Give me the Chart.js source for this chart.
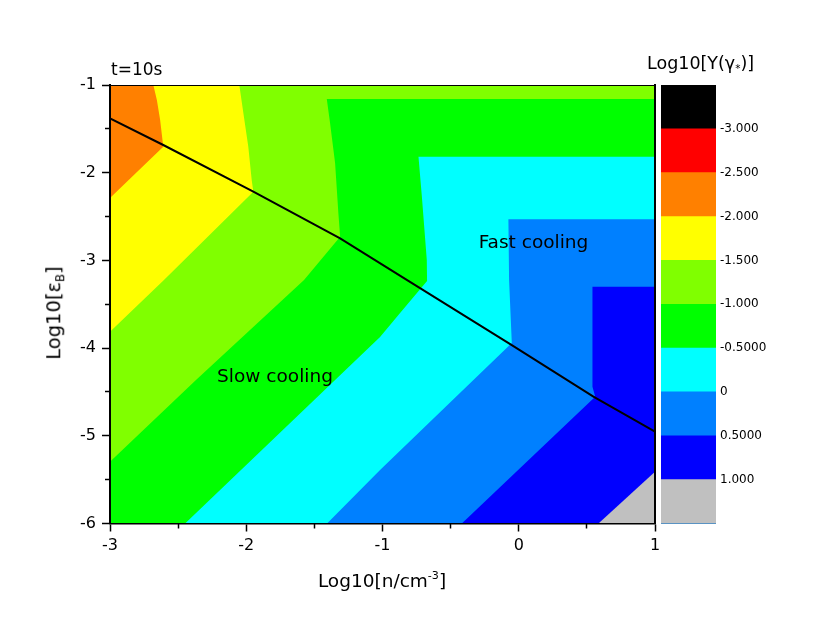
<!DOCTYPE html>
<html><head><meta charset="utf-8">
<script src="https://cdn.jsdelivr.net/npm/chart.js@4.4.1/dist/chart.umd.min.js"></script>
<style>
html,body{margin:0;padding:0;background:#fff;}
#stage{position:relative;width:830px;height:635px;overflow:hidden;font-family:"DejaVu Sans",sans-serif;color:#000;}
#main{position:absolute;left:0;top:0;}
#cbar{position:absolute;left:658px;top:0;}
.lbl{position:absolute;white-space:nowrap;line-height:1;}
.sup{font-size:0.6em;position:relative;top:-0.75em;}
.sub{font-size:0.6em;position:relative;top:0.3em;}
</style></head>
<body><div id="stage">
<canvas id="main" width="830" height="635"></canvas>
<canvas id="cbar" width="172" height="635"></canvas>
<div class="lbl" style="left:111px;top:60.6px;font-size:17px">t=10s</div>
<div class="lbl" style="left:382px;top:572.4px;font-size:18.5px;transform:translateX(-50%)">Log10[n/cm<span class="sup">-3</span>]</div>
<div class="lbl" style="left:54px;top:313px;font-size:19.5px;transform:translate(-50%,-50%) rotate(-90deg)">Log10[ε<span class="sub">B</span>]</div>
<div class="lbl" style="left:647px;top:55.2px;font-size:17.5px">Log10[Y(γ<span class="sub">*</span>)]</div>
</div>
<script>
// ---- axis ticks ----
const xTicks = [-3, -2, -1, 0, 1];
const xTickLabels = ['-3', '-2', '-1', '0', '1'];
const xMinorTicks = [-2.5, -1.5, -0.5, 0.5];
const yTicks = [-6, -5, -4, -3, -2, -1];
const yTickLabels = ['-6', '-5', '-4', '-3', '-2', '-1'];
const yMinorTicks = [-5.5, -4.5, -3.5, -2.5, -1.5];

// ---- contour regions (superlevel sets) ----
const levelNames = ['>= -2.5', '>= -2.0', '>= -1.5', '>= -1.0', '>= -0.5', '>= 0', '>= 0.5', '>= 1.0'];
const levelColors = ['#FF8000', '#FFFF00', '#80FF00', '#00FF00', '#00FFFF', '#0080FF', '#0000FF', '#C0C0C0'];
const regOrangeX = [-3, 1, 1, -3];
const regOrangeY = [-1, -1, -6, -6];
const regYellowX = [-2.682, -2.656, -2.632, -2.609, -2.80, -3, -3, 1, 1];
const regYellowY = [-1, -1.172, -1.400, -1.704, -1.990, -2.288, -6, -6, -1];
const regLGreenX = [-2.051, -2.021, -1.985, -1.960, -1.948, -2.604, -3, -3, 1, 1];
const regLGreenY = [-1, -1.323, -1.704, -2.084, -2.217, -3.223, -3.813, -6, -6, -1];
const regGreenX = [1, -1.409, -1.385, -1.348, -1.324, -1.311, -1.576, -2.369, -3, -3, 1];
const regGreenY = [-1.160, -1.160, -1.433, -1.889, -2.459, -2.729, -3.224, -4.364, -5.295, -6, -6];
const regCyanX = [1, -0.736, -0.711, -0.675, -0.673, -0.871, -1.018, -2.449, 1];
const regCyanY = [-1.818, -1.818, -2.274, -2.995, -3.235, -3.600, -3.873, -6, -6];
const regAzureX = [1, -0.076, -0.071, -0.051, -1.018, -1.407, 1];
const regAzureY = [-2.531, -2.531, -3.223, -3.942, -5.390, -6, -6];
const regBlueX = [1, 0.541, 0.541, 0.561, -0.418, 1];
const regBlueY = [-3.300, -3.300, -4.440, -4.554, -6, -6];
const regGrayX = [1, 0.585, 1];
const regGrayY = [-5.409, -6, -6];

// ---- fast/slow cooling boundary line ----
const lineX = [-3, -2.609, -1.948, -1.311, -0.822, -0.051, 0.548, 1];
const lineY = [-1.380, -1.684, -2.217, -2.748, -3.223, -3.965, -4.554, -4.953];

// ---- annotations ----
const annotTexts = ['Slow cooling', 'Fast cooling'];
const annotX = [-1.789, 0.108];
const annotY = [-4.385, -2.859];

// ---- colour bar ----
const cbEdges = [-3.5, -3, -2.5, -2, -1.5, -1, -0.5, 0, 0.5, 1, 1.5];
const cbColors = ['#000000', '#FF0000', '#FF8000', '#FFFF00', '#80FF00', '#00FF00', '#00FFFF', '#0080FF', '#0000FF', '#C0C0C0'];
const cbTicks = [-3, -2.5, -2, -1.5, -1, -0.5, 0, 0.5, 1];
const cbTickLabels = ['-3.000', '-2.500', '-2.000', '-1.500', '-1.000', '-0.5000', '0', '0.5000', '1.000'];

const FONT = 'DejaVu Sans';
const toPts = (xs, ys) => xs.map((v, i) => ({x: v, y: ys[i]}));
const regions = [
  [regOrangeX, regOrangeY], [regYellowX, regYellowY], [regLGreenX, regLGreenY], [regGreenX, regGreenY],
  [regCyanX, regCyanY], [regAzureX, regAzureY], [regBlueX, regBlueY], [regGrayX, regGrayY]
];

const datasets = [{
  label: 'cooling boundary', data: toPts(lineX, lineY), showLine: true, fill: false,
  borderColor: '#000', borderWidth: 2, pointRadius: 0, order: 0
}];
regions.forEach((r, i) => {
  datasets.push({
    label: levelNames[i], data: toPts(r[0], r[1]), showLine: true, fill: 'shape',
    backgroundColor: levelColors[i], borderWidth: 0, borderColor: 'rgba(0,0,0,0)', pointRadius: 0,
    order: regions.length - i
  });
});

const annotPlugin = {
  id: 'annot',
  afterDatasetsDraw(chart) {
    const {ctx} = chart; const sx = chart.scales.x, sy = chart.scales.y;
    ctx.save();
    ctx.font = '18.5px "' + FONT + '"';
    ctx.fillStyle = '#000'; ctx.textAlign = 'center'; ctx.textBaseline = 'alphabetic';
    annotTexts.forEach((t, i) => ctx.fillText(t, sx.getPixelForValue(annotX[i]), sy.getPixelForValue(annotY[i])));
    ctx.restore();
  }
};

const setTicks = arr => (a) => { a.ticks = arr.map(v => ({value: v})); };
const hiddenAxis = (pos, extra) => Object.assign({
  type: 'linear', position: pos, ticks: {display: false},
  grid: {drawOnChartArea: false, drawTicks: false, z: 1},
  border: {display: true, color: '#000', width: 1.5, z: 1}
}, extra);

new Chart(document.getElementById('main'), {
  type: 'scatter',
  data: {datasets},
  options: {
    responsive: false, animation: false, events: [],
    layout: {padding: {left: 39, right: 175, top: 85, bottom: 0}},
    plugins: {legend: {display: false}, tooltip: {enabled: false}},
    scales: {
      x: {
        type: 'linear', position: 'bottom', min: -3, max: 1, weight: 1,
        afterBuildTicks: setTicks(xTicks),
        ticks: {callback: v => xTickLabels[xTicks.indexOf(v)], font: {family: FONT, size: 16}, color: '#000', padding: 5, maxRotation: 0, autoSkip: false},
        grid: {drawOnChartArea: false, tickLength: 8, tickColor: '#000', tickWidth: 1.5, z: 1},
        border: {display: true, color: '#000', width: 1.5, z: 1},
        afterFit: s => { s.height = 111.5; }
      },
      xm: {
        type: 'linear', position: 'bottom', min: -3, max: 1, weight: 0,
        afterBuildTicks: setTicks(xMinorTicks),
        ticks: {display: false, autoSkip: false},
        grid: {drawOnChartArea: false, tickLength: 5, tickColor: '#000', tickWidth: 1.5, z: 1},
        border: {display: false},
        afterFit: s => { s.height = 0; }
      },
      y: {
        type: 'linear', position: 'left', min: -6, max: -1, weight: 1,
        afterBuildTicks: setTicks(yTicks),
        ticks: {callback: v => yTickLabels[yTicks.indexOf(v)], font: {family: FONT, size: 16}, color: '#000', padding: 6, autoSkip: false},
        grid: {drawOnChartArea: false, tickLength: 8, tickColor: '#000', tickWidth: 1.5, z: 1},
        border: {display: true, color: '#000', width: 2, z: 1},
        afterFit: s => { s.width = 71; }
      },
      ym: {
        type: 'linear', position: 'left', min: -6, max: -1, weight: 0,
        afterBuildTicks: setTicks(yMinorTicks),
        ticks: {display: false, autoSkip: false},
        grid: {drawOnChartArea: false, tickLength: 5, tickColor: '#000', tickWidth: 1.5, z: 1},
        border: {display: false},
        afterFit: s => { s.width = 0; }
      },
      xt: hiddenAxis('top', {min: -3, max: 1, border: {display: true, color: '#000', width: 1, z: 1}, afterFit: s => { s.height = 0; }}),
      yr: hiddenAxis('right', {min: -6, max: -1, border: {display: true, color: '#000', width: 2, z: 1}, afterFit: s => { s.width = 0; }})
    }
  },
  plugins: [annotPlugin]
});

// colour bar: each band drawn from its upper edge to the bottom, lower bands on top
const cbDatasets = cbColors.map((c, i) => ({
  label: 'band ' + i,
  data: [[cbEdges[i], cbEdges[cbEdges.length - 1]]],
  backgroundColor: c, borderWidth: 0, grouped: false,
  barPercentage: 1, categoryPercentage: 1, order: cbColors.length - i
}));

new Chart(document.getElementById('cbar'), {
  type: 'bar',
  data: {labels: ['Y'], datasets: cbDatasets},
  options: {
    responsive: false, animation: false, events: [],
    layout: {padding: {left: 3, right: 0, top: 85, bottom: 111.5}},
    plugins: {legend: {display: false}, tooltip: {enabled: false}},
    scales: {
      x: {display: false},
      y: {
        position: 'right', reverse: true, min: -3.5, max: 1.5,
        afterBuildTicks: setTicks(cbTicks),
        ticks: {callback: v => cbTickLabels[cbTicks.indexOf(v)], font: {family: FONT, size: 12}, color: '#000', padding: 4, autoSkip: false},
        grid: {display: false, drawTicks: false},
        border: {display: false},
        afterFit: s => { s.width = 114; }
      }
    }
  }
});
</script>
</body></html>
